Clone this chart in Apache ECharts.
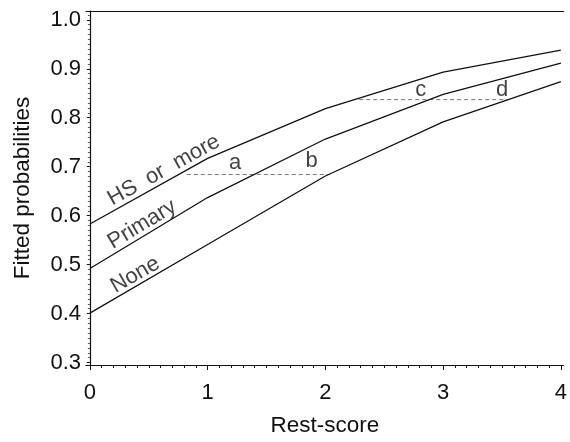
<!DOCTYPE html>
<html>
<head>
<meta charset="utf-8">
<script src="https://cdn.jsdelivr.net/npm/echarts@6/dist/echarts.min.js"></script>
<style>html,body{margin:0;padding:0;background:#fff}#c{width:570px;height:442px}</style>
</head>
<body>
<div id="c"></div>
<script>
// Data
var restScore = [0, 1, 2, 3, 4];
var hsOrMore = [0.583, 0.717, 0.8186, 0.893, 0.938];
var primary = [0.492, 0.637, 0.7565, 0.8475, 0.9116];
var none = [0.401, 0.541, 0.681, 0.7917, 0.8738];
var dashAB = [[0.823, 0.684], [2.036, 0.684]];
var dashCD = [[2.287, 0.837], [3.543, 0.837]];
var letterLabels = [
  {name: 'a', value: [1.233, 0.707]},
  {name: 'b', value: [1.883, 0.711]},
  {name: 'c', value: [2.809, 0.856]},
  {name: 'd', value: [3.50, 0.856]}
];
var curveLabels = [
  {name: 'HS  or  more', value: [0.628, 0.693], rot: 29},
  {name: 'Primary', value: [0.444, 0.582], rot: 31},
  {name: 'None', value: [0.385, 0.479], rot: 30}
];
var xTicks = [0, 1, 2, 3, 4];
var yTicks = [0.3, 0.4, 0.5, 0.6, 0.7, 0.8, 0.9, 1.0];

var xMinor = [];
for (var i = 0; i <= 40; i++) xMinor.push(i / 10);
var yMinor = [];
for (var j = 30; j <= 101; j++) yMinor.push(j / 100);

var XMIN = -0.033, XMAX = 4.023, YMIN = 0.295, YMAX = 1.018;
var FONT = "'Liberation Sans', Arial, Helvetica, sans-serif";
var INK = '#111';

function pairs(ys) { return restScore.map(function (x, k) { return [x, ys[k]]; }); }
function lineSeries(ys) {
  return {type: 'line', data: pairs(ys), showSymbol: false, symbol: 'none',
    lineStyle: {color: INK, width: 1.3}, silent: true, z: 3};
}
function dashSeries(d) {
  return {type: 'line', data: d, showSymbol: false, symbol: 'none',
    lineStyle: {color: '#777', width: 1, type: [4, 3]}, silent: true, z: 2};
}

var chart = echarts.init(document.getElementById('c'), null, {renderer: 'canvas'});
chart.setOption({
  backgroundColor: '#fff',
  animation: false,
  grid: {left: 86, right: -1, top: 11, bottom: 73, containLabel: false},
  xAxis: [
    {type: 'value', min: XMIN, max: XMAX, position: 'bottom',
      axisLine: {show: true, lineStyle: {color: INK, width: 1.2}},
      axisTick: {show: true, customValues: xMinor, length: 3, lineStyle: {color: INK, width: 1}},
      axisLabel: {show: false}, splitLine: {show: false}},
    {type: 'value', min: XMIN, max: XMAX, position: 'bottom',
      axisLine: {show: false},
      axisTick: {show: true, customValues: xTicks, length: 5, lineStyle: {color: INK, width: 1}},
      axisLabel: {show: true, customValues: xTicks, margin: 17, color: INK, fontSize: 22, fontFamily: FONT},
      splitLine: {show: false},
      name: 'Rest-score', nameLocation: 'middle', nameGap: 49,
      nameTextStyle: {color: INK, fontSize: 22.5, fontFamily: FONT}},
    {type: 'value', min: XMIN, max: XMAX, position: 'top',
      axisLine: {show: true, lineStyle: {color: INK, width: 1.2}},
      axisTick: {show: false}, axisLabel: {show: false}, splitLine: {show: false}}
  ],
  yAxis: [
    {type: 'value', min: YMIN, max: YMAX, position: 'left',
      axisLine: {show: true, lineStyle: {color: INK, width: 1.2}},
      axisTick: {show: true, customValues: yMinor, length: 2, lineStyle: {color: '#555', width: 1}},
      axisLabel: {show: false}, splitLine: {show: false}},
    {type: 'value', min: YMIN, max: YMAX, position: 'left',
      axisLine: {show: false},
      axisTick: {show: true, customValues: yTicks, length: 3, lineStyle: {color: INK, width: 1}},
      axisLabel: {show: true, customValues: yTicks, margin: 5, color: INK, fontSize: 22, fontFamily: FONT,
        formatter: function (v) { return v.toFixed(1); }},
      splitLine: {show: false},
      name: 'Fitted probabilities', nameLocation: 'middle', nameGap: 52, nameRotate: 90,
      nameTextStyle: {color: INK, fontSize: 22.5, fontFamily: FONT}}
  ],
  series: [
    lineSeries(hsOrMore),
    lineSeries(primary),
    lineSeries(none),
    dashSeries(dashAB),
    dashSeries(dashCD),
    {type: 'scatter', symbolSize: 0, silent: true, z: 5,
      data: letterLabels,
      label: {show: true, position: 'inside', formatter: function (p) { return p.name; },
        color: INK, fontSize: 22, fontFamily: FONT}},
    {type: 'scatter', symbolSize: 0, silent: true, z: 5,
      data: curveLabels.map(function (c) {
        return {name: c.name, value: c.value, label: {rotate: c.rot}};
      }),
      label: {show: true, position: 'inside', formatter: function (p) { return p.name; },
        color: INK, fontSize: 22, fontFamily: FONT}}
  ]
});
</script>
</body>
</html>
